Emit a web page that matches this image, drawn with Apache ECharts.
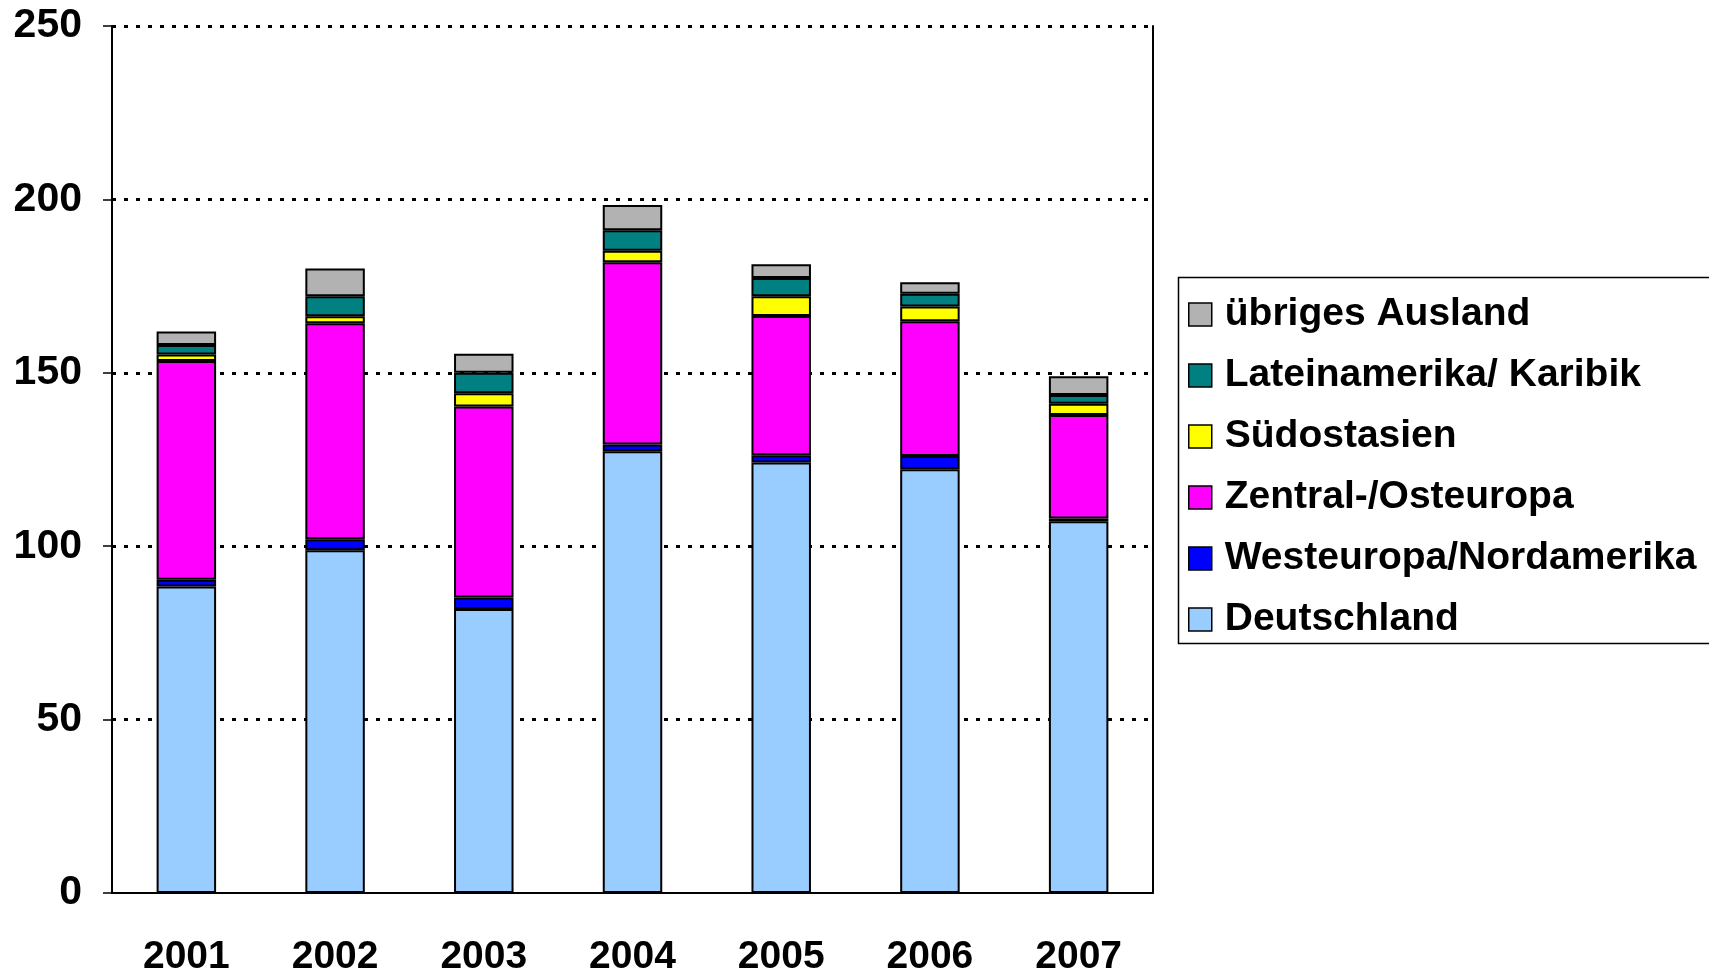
<!DOCTYPE html>
<html>
<head>
<meta charset="utf-8">
<script src="https://cdn.jsdelivr.net/npm/echarts@6/dist/echarts.min.js"></script>
<style>
  html, body { margin: 0; padding: 0; background: #fff; }
  #chart { width: 1709px; height: 977px; }
</style>
</head>
<body>
<div id="chart"></div>
<script>
// Jahre und Werte je Herkunftsregion
var years = ['2001', '2002', '2003', '2004', '2005', '2006', '2007'];
var deutschland = [88.4, 98.8, 81.9, 127.4, 124.1, 122.2, 107.2];
var westeuropa  = [1.9, 3.2, 3.3, 1.9, 2.1, 3.8, 0.8];
var zentralOst  = [63.1, 62.3, 55.1, 52.6, 40.2, 38.9, 29.8];
var suedostasien = [1.9, 2.0, 3.8, 3.3, 5.7, 4.2, 3.3];
var lateinamerika = [2.7, 5.8, 5.9, 5.9, 5.2, 3.7, 2.5];
var uebriges = [3.9, 8.0, 5.5, 7.3, 4.0, 3.3, 5.4];

var names = ['Deutschland', 'Westeuropa/Nordamerika', 'Zentral-/Osteuropa',
             'Südostasien', 'Lateinamerika/ Karibik', 'übriges Ausland'];
var colors = ['#99CCFF', '#0000FF', '#FF00FF', '#FFFF00', '#008080', '#B2B2B2'];
var values = [deutschland, westeuropa, zentralOst, suedostasien, lateinamerika, uebriges];

var font = '"Liberation Sans", Arial, sans-serif';

var series = names.map(function (n, i) {
  return {
    name: n,
    type: 'bar',
    stack: 'total',
    barWidth: '40%',
    data: values[i],
    itemStyle: { color: colors[i], borderColor: '#000', borderWidth: 2 }
  };
});

var chart = echarts.init(document.getElementById('chart'));
chart.setOption({
  animation: false,
  backgroundColor: '#fff',
  grid: { left: 112, right: 556, top: 26, bottom: 83 },
  // Rahmen der Legende
  graphic: [{
    type: 'rect',
    left: 1176, top: 275,
    shape: { width: 560, height: 366 },
    style: { fill: 'none', stroke: '#000', lineWidth: 1.5 },
    z: 1
  }],
  legend: {
    orient: 'vertical',
    left: 1177,
    top: 284,
    data: names.slice().reverse(),
    itemWidth: 23,
    itemHeight: 23,
    itemGap: 0,
    icon: 'rect',
    padding: [0, 0, 0, 11],
    itemStyle: { borderColor: '#000', borderWidth: 1.5 },
    textStyle: {
      fontFamily: font, fontWeight: 'bold', fontSize: 39,
      color: '#000', lineHeight: 61, padding: [0, 0, 0, 8]
    }
  },
  xAxis: {
    type: 'category',
    data: years,
    axisLine: { lineStyle: { color: '#000', width: 2 } },
    axisTick: { length: 11, lineStyle: { color: '#000', width: 1.5 } },
    axisLabel: {
      margin: 45, color: '#000', fontFamily: font,
      fontWeight: 'bold', fontSize: 39
    }
  },
  yAxis: [{
    type: 'value',
    min: 0, max: 250, interval: 50,
    axisLine: { show: true, lineStyle: { color: '#000', width: 2 } },
    axisTick: { show: true, length: 9, lineStyle: { color: '#000', width: 1.5 } },
    axisLabel: {
      margin: 30, color: '#000', fontFamily: font,
      fontWeight: 'bold', fontSize: 41
    },
    splitLine: { showMinLine: false, lineStyle: { color: '#000', width: 3, type: [4, 8] } }
  }, {
    type: 'value',
    min: 0, max: 250, interval: 50,
    position: 'right',
    axisLine: { show: true, lineStyle: { color: '#000', width: 2 } },
    axisTick: { show: false },
    axisLabel: { show: false },
    splitLine: { show: false }
  }],
  series: series
});
</script>
</body>
</html>
